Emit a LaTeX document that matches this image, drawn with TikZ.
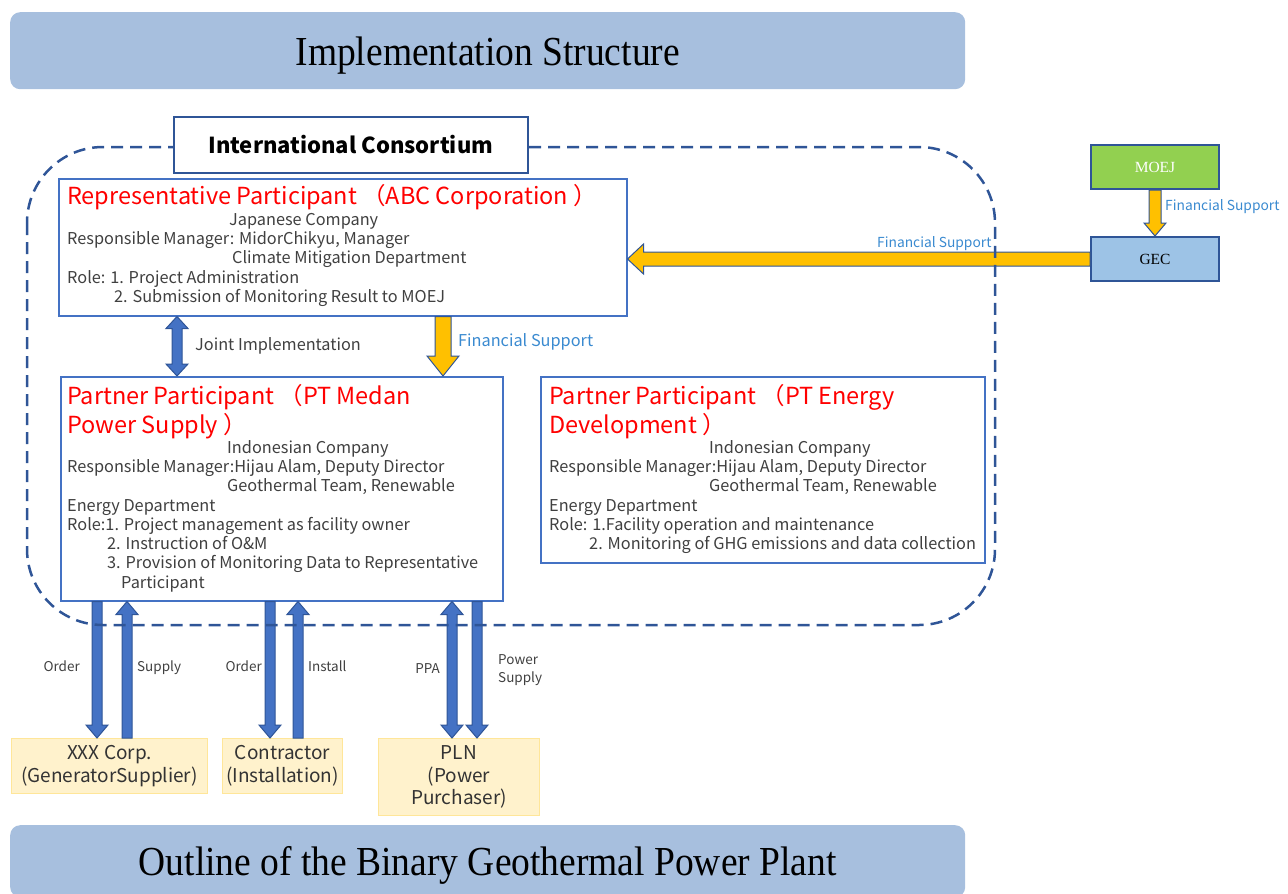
\documentclass[tikz,border=0pt]{standalone}
\usepackage{fontspec}
\usepackage{graphicx}
\setmainfont{Liberation Serif}
\newfontfamily\jpfont{Noto Sans CJK JP}
\usetikzlibrary{calc}
\definecolor{barblue}{HTML}{A7BFDE}
\definecolor{darkblue}{HTML}{2F5597}
\definecolor{boxblue}{HTML}{4472C4}
\definecolor{txtgray}{HTML}{404040}
\definecolor{finblue}{HTML}{3A8AD0}
\definecolor{gold}{HTML}{FFC000}
\definecolor{moejgreen}{HTML}{92D050}
\definecolor{gecblue}{HTML}{9DC3E6}
\definecolor{partyfill}{HTML}{FFF2CC}
\definecolor{partyline}{HTML}{FFE699}
% #1 style, #2 from, #3 to, #4 half shaft, #5 half head, #6 head length
\newcommand{\fatarrow}[6]{
	\coordinate (fa) at (#2);
	\coordinate (fb) at (#3);
	\coordinate (fc) at ($(fb)!#6!(fa)$);
	\filldraw[#1] ($(fa)!#4!90:(fb)$) -- ($(fc)!#4!-90:(fa)$) -- ($(fc)!#5!-90:(fa)$) -- (fb)
		-- ($(fc)!#5!90:(fa)$) -- ($(fc)!#4!90:(fa)$) -- ($(fa)!#4!-90:(fb)$) -- cycle;
}
\newcommand{\fatdarrow}[6]{
	\coordinate (fa) at (#2);
	\coordinate (fb) at (#3);
	\coordinate (fc) at ($(fb)!#6!(fa)$);
	\coordinate (fd) at ($(fa)!#6!(fb)$);
	\filldraw[#1] (fa) -- ($(fd)!#5!90:(fb)$) -- ($(fd)!#4!90:(fb)$) -- ($(fc)!#4!-90:(fa)$)
		-- ($(fc)!#5!-90:(fa)$) -- (fb) -- ($(fc)!#5!90:(fa)$) -- ($(fc)!#4!90:(fa)$)
		-- ($(fd)!#4!-90:(fb)$) -- ($(fd)!#5!-90:(fb)$) -- cycle;
}
\newcommand{\tall}[1]{\scalebox{1}[1.1]{#1}}

\begin{document}
\begin{tikzpicture}[x=1pt,y=-1pt,
	bar/.style={fill=barblue, rounded corners=10pt, anchor=north west, minimum width=955pt,
		inner sep=0pt, text depth=0pt, font=\fontsize{37.5}{40}\selectfont},
	box/.style={draw=boxblue, line width=1.5pt, fill=white, anchor=north west, inner sep=0pt},
	head/.style={anchor=north west, inner sep=0pt, align=left, text=red,
		font=\jpfont\fontsize{23.5}{29}\selectfont},
	body/.style={anchor=north west, inner sep=0pt, align=left, text=txtgray,
		font=\jpfont\fontsize{16.3}{19.3}\selectfont},
	small/.style={inner sep=0pt, align=left, text=txtgray, font=\jpfont\fontsize{13.5}{18}\selectfont},
	fin/.style={inner sep=0pt, text=finblue, font=\jpfont\fontsize{#1}{18}\selectfont},
	party/.style={draw=partyline, fill=partyfill, line width=1pt, anchor=north west, inner sep=0pt,
		align=center, text=txtgray!80!black, font=\jpfont\fontsize{19}{22.5}\selectfont},
	gov/.style={draw=darkblue, line width=2pt, anchor=north west, minimum width=128pt,
		minimum height=44pt, inner sep=0pt, font=\fontsize{15.5}{18}\selectfont},
	bluearrow/.style={fill=boxblue, draw=darkblue, line width=1pt},
	goldarrow/.style={fill=gold, draw=darkblue, line width=1pt}
]
	\useasboundingbox (0,0) rectangle (1288,894);

	% title bars
	\node[bar, minimum height=77pt] (title) at (10,12) {\tall{Implementation Structure}};
	\begin{scope}
	\clip (0,0) rectangle (1288,894);
	\node[bar, minimum height=72pt] (outline) at (10,825) {\tall{Outline of the Binary Geothermal Power Plant}};
	\end{scope}

	% participants
	\node[box, minimum width=568pt, minimum height=137pt] (rep) at (58,178) {};
	\node[head] (rephead) at (67,184) {Representative Participant （ABC Corporation ）};
	\node[body] (repbody) at (67,213) {\hspace*{162pt}Japanese Company\\
		Responsible Manager: MidorChikyu, Manager\\
		\hspace*{165pt}Climate Mitigation Department\\
		Role: 1. Project Administration\\
		\hspace*{47pt}2. Submission of Monitoring Result to MOEJ};

	\node[box, minimum width=442pt, minimum height=224pt] (pmp) at (60,376) {};
	\node[head] (pmphead) at (67,384) {Partner Participant （PT Medan\\Power Supply ）};
	\node[body] (pmpbody) at (67,440) {\hspace*{160pt}Indonesian Company\\
		Responsible Manager:Hijau Alam, Deputy Director\\
		\hspace*{160pt}Geothermal Team, Renewable\\
		Energy Department\\
		Role:1. Project management as facility owner\\
		\hspace*{40pt}2. Instruction of O\&M\\
		\hspace*{40pt}3. Provision of Monitoring Data to Representative\\
		\hspace*{54pt}Participant};

	\node[box, minimum width=444pt, minimum height=186pt] (ped) at (540,376) {};
	\node[head] (pedhead) at (549,384) {Partner Participant （PT Energy\\Development ）};
	\node[body] (pedbody) at (549,440) {\hspace*{160pt}Indonesian Company\\
		Responsible Manager:Hijau Alam, Deputy Director\\
		\hspace*{160pt}Geothermal Team, Renewable\\
		Energy Department\\
		Role: 1.Facility operation and maintenance\\
		\hspace*{40pt}2. Monitoring of GHG emissions and data collection};

	% outside parties
	\node[party, minimum width=196pt, minimum height=55pt] (xxx) at (11,738) {XXX Corp.\\(GeneratorSupplier)};
	\node[party, minimum width=120pt, minimum height=55pt] (contr) at (222,738) {Contractor\\(Installation)};
	\node[party, minimum width=161pt, minimum height=77pt] (pln) at (378,738) {PLN\\(Power\\Purchaser)};

	\node[gov, fill=moejgreen, text=white] (moej) at (1090,144) {MOEJ};
	\node[gov, fill=gecblue] (gec) at (1090,236) {GEC};

	% arrows
	\fatdarrow{bluearrow}{[xshift=119pt]rep.south west}{[xshift=117pt]pmp.north west}{5pt}{11pt}{12pt}
	\fatarrow{goldarrow}{[xshift=385pt]rep.south west}{[xshift=383pt]pmp.north west}{8pt}{16pt}{20pt}
	\fatarrow{goldarrow}{moej.south}{gec.north}{6pt}{11pt}{13pt}
	\fatarrow{goldarrow}{gec.west}{gec.west -| rep.east}{7pt}{15pt}{16pt}

	\fatarrow{bluearrow}{[xshift=37pt]pmp.south west}{[xshift=86pt]xxx.north west}{5pt}{11pt}{13pt}
	\fatarrow{bluearrow}{[xshift=116pt]xxx.north west}{[xshift=67pt]pmp.south west}{5pt}{11pt}{13pt}
	\fatarrow{bluearrow}{[xshift=210pt]pmp.south west}{[xshift=48pt]contr.north west}{5pt}{11pt}{13pt}
	\fatarrow{bluearrow}{[xshift=76pt]contr.north west}{[xshift=238pt]pmp.south west}{5pt}{11pt}{13pt}
	\fatdarrow{bluearrow}{[xshift=392pt]pmp.south west}{[xshift=74pt]pln.north west}{5pt}{11pt}{13pt}
	\fatarrow{bluearrow}{[xshift=417pt]pmp.south west}{[xshift=99pt]pln.north west}{5pt}{11pt}{13pt}

	% arrow labels
	\node[small, font=\jpfont\fontsize{16.3}{18}\selectfont, anchor=west] (joint) at (195,346) {Joint Implementation};
	\node[fin=16.3, anchor=west] (fin1) at (458,342) {Financial Support};
	\node[fin=13.8, anchor=west] (fin2) at (1165,207) {Financial Support};
	\node[fin=13.8, anchor=west] (fin3) at (877,244) {Financial Support};
	\node[small, anchor=east] (order1) at (80,666) {Order};
	\node[small, anchor=west] (supply) at (137,668) {Supply};
	\node[small, anchor=east] (order2) at (262,666) {Order};
	\node[small, anchor=west] (install) at (308,666) {Install};
	\node[small, anchor=east] (ppa) at (440,669) {PPA};
	\node[small, anchor=west] (psupply) at (498,670) {Power\\Supply};

	% consortium boundary
	\draw[darkblue, line width=2.5pt, dash pattern=on 12pt off 7pt, rounded corners=76pt] (27,147) rectangle (995,625);
	\node[box, draw=darkblue, minimum width=354pt, minimum height=56pt, anchor=north west,
		text=black, font=\jpfont\bfseries\fontsize{22}{26}\selectfont] (cons) at (173,116) {International Consortium};
\end{tikzpicture}
\end{document}
